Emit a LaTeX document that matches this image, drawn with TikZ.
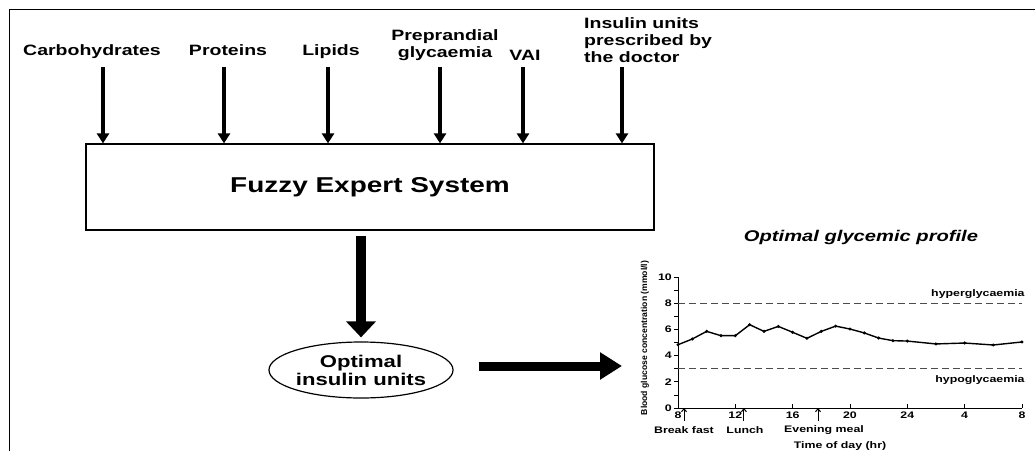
\documentclass[tikz,border=0pt]{standalone}
\usepackage{fontspec}
\setmainfont{Liberation Sans}
\newfontfamily\wide{Liberation Sans}[FakeStretch=1.3]
\usetikzlibrary{arrows.meta,shapes.geometric}
\tikzset{
  inlabel/.style={font=\wide\bfseries\fontsize{15}{17}\selectfont, inner sep=0pt},
  inarrow/.style={line width=3.5pt, -{Triangle[width=12pt,length=10pt]}},
  bigarrow/.style={line width=10pt, -{Triangle[width=29pt,length=16pt]}},
  hbigarrow/.style={line width=9pt, -{Triangle[width=26pt,length=22pt]}},
  gtext/.style={font=\wide\bfseries\fontsize{9.5}{11}\selectfont, inner sep=0pt},
  guide/.style={dash pattern=on 7pt off 4pt, line width=0.8pt, black!70},
}
\begin{document}
\begin{tikzpicture}[x=1pt,y=-1pt]
\useasboundingbox (0,0) rectangle (1035,450);
% frame
\draw[line width=1.8pt] (9.5,460) -- (9.5,9.5) -- (1045,9.5);
% input labels
\node[inlabel, anchor=base] (carb) at (92,55.5) {Carbohydrates};
\node[inlabel, anchor=base] (prot) at (228,55.5) {Proteins};
\node[inlabel, anchor=base] (lip) at (331,55.5) {Lipids};
\node[inlabel, align=center] (prep) at (445,45) {Preprandial\\glycaemia};
\node[inlabel, anchor=base] (vai) at (525,60) {VAI};
\node[inlabel, align=left, anchor=west] (ins) at (584,40) {Insulin units\\prescribed by\\the doctor};
% main box
\node[draw, line width=1.2pt, minimum width=568pt, minimum height=86pt, inner sep=0pt,
      font=\wide\bfseries\fontsize{21.5}{24}\selectfont] (fes) at (370,187) {Fuzzy Expert System};
% arrow start coordinates
\coordinate (s1) at (103,67);
\coordinate (s2) at (224,67);
\coordinate (s3) at (328,67);
\coordinate (s4) at (440,67);
\coordinate (s5) at (523,67);
\coordinate (s6) at (622,67);
\foreach \i in {1,...,6}{
  \draw[inarrow] (s\i) -- (s\i |- fes.north);
}
% ellipse
\node[draw, ellipse, line width=1.2pt, minimum width=177pt, minimum height=56pt, inner sep=0pt,
      align=center, font=\wide\bfseries\fontsize{17}{18}\selectfont] (opt) at (361,370) {Optimal\\insulin units};
\draw[bigarrow, shorten <=5pt, shorten >=4pt] (opt.north |- fes.south) -- (opt.north);
\coordinate (gin) at (622,366);
\draw[hbigarrow, shorten <=25pt] (opt.east |- gin) -- (gin);
% graph
\node[font=\wide\bfseries\itshape\fontsize{15.5}{17}\selectfont, inner sep=0pt] (title) at (861,237) {Optimal glycemic profile};
\node[font=\bfseries\fontsize{8.6}{10}\selectfont, rotate=90, inner sep=0pt] (ylab) at (645,338) {Blood glucose concentration (mmol/l)};
\begin{scope}[shift={(678,408)}, x=14.33pt, y=13.1pt]
  \draw[line width=0.9pt] (0,10) -- (0,0) -- (24,0);
  \foreach \v in {0,...,10}{ \draw[line width=0.8pt] (0,\v) -- ++(-4pt,0); }
  \foreach \v in {0,2,...,10}{ \node[gtext, anchor=east] at ([xshift=-6pt]0,\v) {\v}; }
  \foreach \h in {4,8,...,24}{ \draw[line width=0.8pt] (\h,0) -- ++(0,4pt); }
  \foreach \h/\l in {0/8,4/12,8/16,12/20,16/24,20/4,24/8}{
    \node[gtext] at ([yshift=-7pt]\h,0) {\l};
  }
  \draw[guide] (0,8) -- (24,8);
  \draw[guide] (0,3) -- (24,3);
  \node[gtext, anchor=south east] (hyper) at ([yshift=4pt]24.2,8) {hyperglycaemia};
  \node[gtext, anchor=north east] (hypo) at ([yshift=-7pt]24.2,3) {hypoglycaemia};
  \draw[line width=1.4pt, line join=round]
    plot coordinates {(0,4.83) (1,5.27) (2,5.85) (3,5.52) (4,5.52) (5,6.36) (6,5.85) (7,6.23) (8,5.78) (9,5.32) (10,5.85) (11,6.25) (12,6.03) (13,5.73) (14,5.34) (15,5.14) (16,5.11) (18,4.89) (20,4.96) (22,4.81) (24,5.04)};
  \foreach \p in {(0,4.83),(1,5.27),(2,5.85),(3,5.52),(4,5.52),(5,6.36),(6,5.85),(7,6.23),(8,5.78),(9,5.32),(10,5.85),(11,6.25),(12,6.03),(13,5.73),(14,5.34),(15,5.14),(16,5.11),(18,4.89),(20,4.96),(22,4.81),(24,5.04)}{
    \fill \p circle (1.7pt);
  }
  % meal markers
  \coordinate (m1) at (0.42,0);
  \coordinate (m2) at (4.6,0);
  \coordinate (m3) at (9.77,0);
  \foreach \m in {m1,m2,m3}{
    \draw[line width=1pt, -{Straight Barb[width=5pt,length=3pt]}] ([yshift=-13pt]\m) -- (\m);
  }
\end{scope}
\node[gtext] (bf) at (684,430) {Break fast};
\node[gtext] (lunch) at (745,430) {Lunch};
\node[gtext] (eve) at (824,430) {Evening meal};
\node[gtext] (time) at (840,446) {Time of day (hr)};
\end{tikzpicture}
\end{document}
